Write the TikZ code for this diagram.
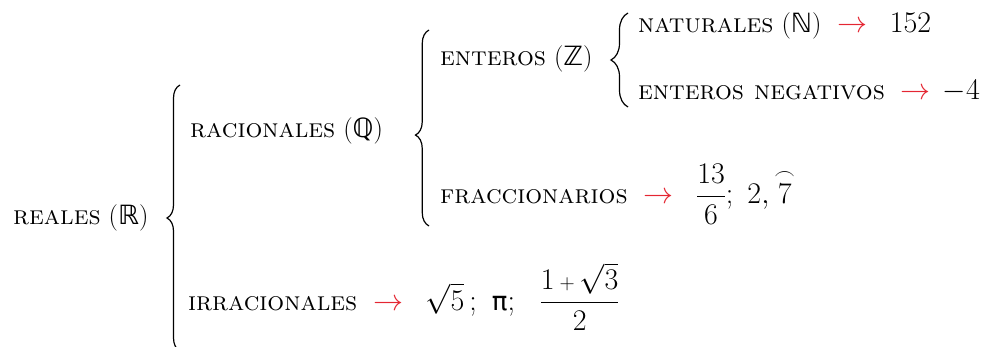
\RequirePackage{fix-cm}
\documentclass[tikz,border=0pt]{standalone}
\usepackage{amsmath}
\usepackage{fontspec}
\newfontfamily\dejavu{DejaVu Sans}
\usetikzlibrary{decorations.pathreplacing}
\definecolor{arrred}{RGB}{228,38,50}
\newcommand{\mbig}[1]{{\fontsize{30}{34}\selectfont #1}}
\newcommand{\ra}[1][0.85em]{\hspace{0.6em}\mbig{\textcolor{arrred}{$\rightarrow$}}\hspace{#1}}
\newcommand{\bbl}[1]{{\dejavu #1}}
\tikzset{
  lbl/.style={anchor=base west, inner sep=0pt, font=\fontsize{26.5}{30}\selectfont},
  bracedraw/.style={draw=black, line width=1.2pt, decorate,
    decoration={brace, amplitude=#1}},
}
\begin{document}
\begin{tikzpicture}[x=1pt,y=-1pt]
\useasboundingbox (0,0) rectangle (985,347);
\node[lbl] (reales) at (13,225) {\textsc{reales} (\bbl{ℝ})};
\node[lbl] (racionales) at (190,138) {\textsc{racionales} (\bbl{ℚ})};
\node[lbl] (enteros) at (440,66) {\textsc{enteros} (\bbl{ℤ})};
\node[lbl] (naturales) at (638,33) {\textsc{naturales} (\bbl{ℕ})\ra\mbig{$152$}};
\node[lbl] (negativos) at (638,100) {\textsc{enteros negativos}\ra[0.45em]\mbig{$-4$}};
\node[lbl] (fracc) at (440,204) {\textsc{fraccionarios}\ra\mbig{$\dfrac{13}{6};\ 2,\overset{\scriptstyle\frown}{7}$}};
\node[lbl] (irrac) at (188,310) {\textsc{irracionales}\ra\mbig{$\sqrt{5}\,;\hspace{0.5em}$}{\fontsize{26}{28}\selectfont\bbl{π}}\mbig{$;\hspace{0.65em}\dfrac{1\,{\scriptstyle +}\,\sqrt{3}}{2}$}};
\coordinate (b1s) at (180,351);
\coordinate (b1e) at (180,85);
\coordinate (b2s) at (429,226);
\coordinate (b2e) at (429,30);
\coordinate (b3s) at (628,107);
\coordinate (b3e) at (628,13);
\path[bracedraw=13pt] (b1s) -- (b1e);
\path[bracedraw=13.5pt, decoration={aspect=0.464}] (b2s) -- (b2e);
\path[bracedraw=17pt] (b3s) -- (b3e);
\end{tikzpicture}
\end{document}
